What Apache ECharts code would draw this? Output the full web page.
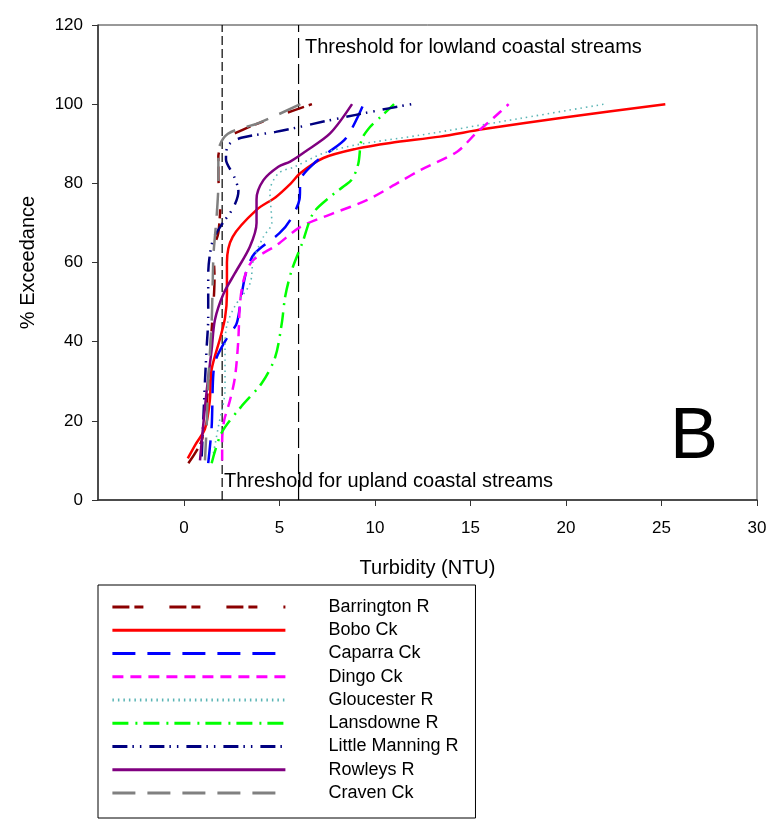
<!DOCTYPE html>
<html>
<head>
<meta charset="utf-8">
<script src="https://cdn.jsdelivr.net/npm/echarts@6/dist/echarts.min.js"></script>
<style>
html,body{margin:0;padding:0;background:#fff;}
#chart{width:773px;height:821px;}
</style>
</head>
<body>
<div id="chart"></div>
<script>
// ---- data (turbidity NTU, % exceedance) ----
const seriesNames = ['Barrington R','Bobo Ck','Caparra Ck','Dingo Ck','Gloucester R','Lansdowne R','Little Manning R','Rowleys R','Craven Ck'];
const barrington = [[0.23,9.3],[0.93,15],[1.2,25],[1.35,35],[1.45,43],[1.54,49],[1.6,56],[1.55,63],[1.8,67.5],[1.9,75],[1.8,81.7],[1.8,86.7],[2.15,91],[3.46,94.3],[5.1,97.3],[6.7,100]];
const bobo = [[0.2,10.5],[0.6,14],[1.1,18],[1.35,25],[1.45,33],[1.9,41],[2.15,46],[2.25,52],[2.25,60],[2.55,66.5],[3.8,73.3],[4.8,76.5],[5.6,80],[6.1,82.6],[7.3,86.4],[9,88.7],[10.8,90.2],[13.4,91.8],[15.7,93.7],[20,96.7],[25.2,100]];
const caparra = [[1.27,9.3],[1.45,18.5],[1.54,32],[1.71,36],[2.3,41.3],[2.76,44.6],[3.02,52],[3.28,58],[3.7,62.3],[5.0,67.4],[5.56,70.7],[6.05,76],[6.1,80.8],[6.8,85],[7.5,87.6],[8.5,91.5],[9.4,100]];
const dingo = [[2.0,10],[2.0,15],[2.1,20],[2.4,25],[2.67,31],[2.84,40],[2.94,50],[3.15,56],[3.6,60.5],[4.86,64.4],[6.1,69],[7.8,72.4],[9.6,75.8],[11.3,80.4],[12.4,83.4],[14.3,88],[15.3,92.7],[16.2,96.5],[17,100]];
const gloucester = [[1.54,11.8],[1.8,18.5],[2.15,28],[2.15,38],[2.24,44],[2.67,49],[3.46,54.7],[3.63,60.6],[4.16,66.5],[4.6,70],[4.5,78],[4.94,82.5],[5.8,84.2],[7.3,87.6],[9,89.7],[12.4,92.2],[17.6,96.4],[22,100]];
const lansdowne = [[1.45,9.3],[1.97,17],[3.0,23.6],[4.07,29.5],[4.77,36],[5.12,44.6],[5.3,51.4],[5.64,58],[6.2,65],[6.77,72.5],[7.65,76.6],[8.35,79.2],[8.8,81],[9.13,85],[9.3,91],[9.75,94.3],[10.3,96.8],[11,100]];
const littleManning = [[0.93,11],[1.01,20],[1.1,30],[1.19,38.7],[1.27,46],[1.27,57],[1.5,65.5],[1.9,69],[2.6,74],[2.85,78],[2.6,82],[2.2,86],[2.3,89.5],[3.0,91.5],[4.8,93],[6,94.2],[7.3,95.6],[9,97.3],[10.8,99],[11.9,100]];
const rowleys = [[0.84,10],[1.0,18.5],[1.2,28],[1.45,38],[1.62,45.5],[2.06,52],[2.67,57.3],[3.45,64],[3.8,70],[3.8,76],[4.16,80.8],[4.94,84.2],[5.56,85.5],[6.34,88],[7.65,92.6],[8.8,100]];
const craven = [[1.1,10],[1.2,20],[1.27,30],[1.45,45],[1.54,61.5],[1.62,66.5],[1.71,71.6],[1.8,80],[1.8,88],[2.3,92.5],[3.9,95.2],[6.1,100]];
const thresholds = [2, 6];
const thresholdLabels = ['Threshold for upland coastal streams','Threshold for lowland coastal streams'];
const xTicks = [0,5,10,15,20,25,30];
const yTicks = [0,20,40,60,80,100,120];

// ---- styles ----
const styles = [
  {color:'#8B0000', type:[17,5,9,26]},
  {color:'#FF0000', type:'solid'},
  {color:'#0000FF', type:[23,12]},
  {color:'#FF00FF', type:[11,7]},
  {color:'#5BB5B5', type:[1.5,4], width:1.6},
  {color:'#00FF00', type:[16,7,2,6]},
  {color:'#000080', type:[15,5,1.5,6,1.5,8]},
  {color:'#800080', type:'solid'},
  {color:'#808080', type:[23,12]}
];
const allData = [barrington,bobo,caparra,dingo,gloucester,lansdowne,littleManning,rowleys,craven];
const FONT = '"Liberation Sans", Arial, Helvetica, sans-serif';

const series = allData.map((d,i)=>({
  name: seriesNames[i],
  type:'line',
  data:d,
  symbol:'none',
  smooth:0.3,
  color: styles[i].color,
  lineStyle:{color:styles[i].color, type:styles[i].type, width:styles[i].width||2.5},
  z: 3
}));
thresholds.forEach((t,i)=>{
  series.push({
    type:'line', data:[[t,0],[t,120]], symbol:'none', silent:true,
    lineStyle:{color:'#000', width:1.2, type: i===0 ? [9,4] : [20,6]},
    z:2
  });
});

const chart = echarts.init(document.getElementById('chart'), null, {renderer:'canvas'});
chart.setOption({
  animation:false,
  backgroundColor:'#fff',
  grid:{left:98, top:25, right:16, bottom:321, show:true, borderColor:'#333', borderWidth:1},
  xAxis:{
    type:'value', min:-4.5, max:30,
    axisLine:{show:true, onZero:false, lineStyle:{color:'#333', width:1.5}},
    axisTick:{show:true, inside:false, length:6, customValues:xTicks, lineStyle:{color:'#333'}},
    axisLabel:{customValues:xTicks, color:'#000', fontSize:17, fontFamily:FONT, margin:20},
    splitLine:{show:false},
    name:'Turbidity (NTU)', nameLocation:'middle', nameGap:58,
    nameTextStyle:{color:'#000', fontSize:20, fontFamily:FONT}
  },
  yAxis:{
    type:'value', min:0, max:120, interval:20,
    axisLine:{show:true, onZero:false, lineStyle:{color:'#333', width:1.5}},
    axisTick:{show:true, inside:false, length:6, lineStyle:{color:'#333'}},
    axisLabel:{customValues:yTicks, color:'#000', fontSize:17, fontFamily:FONT, margin:15},
    splitLine:{show:false},
    name:'% Exceedance', nameLocation:'middle', nameGap:60,
    nameTextStyle:{color:'#000', fontSize:20, fontFamily:FONT}
  },
  legend:{
    data:seriesNames,
    orient:'vertical', left:98, top:585,
    padding:[13,17,16,13],
    itemWidth:173, itemHeight:18, itemGap:5.25,
    borderColor:'#000', borderWidth:1,
    itemStyle:{opacity:0, color:'rgba(0,0,0,0)', borderWidth:0},
    lineStyle:{opacity:1, width:2.8},
    textStyle:{color:'#000', fontSize:18, fontFamily:FONT, padding:[0,0,0,38]}
  },
  graphic:[
    {type:'text', left:305, top:37, style:{text:thresholdLabels[1], font:'20px '+FONT, fill:'#000'}},
    {type:'text', left:224, top:471, style:{text:thresholdLabels[0], font:'20px '+FONT, fill:'#000'}},
    {type:'text', left:670, top:402, style:{text:'B', font:'72px '+FONT, fill:'#000'}}
  ],
  series:series
});
</script>
</body>
</html>
